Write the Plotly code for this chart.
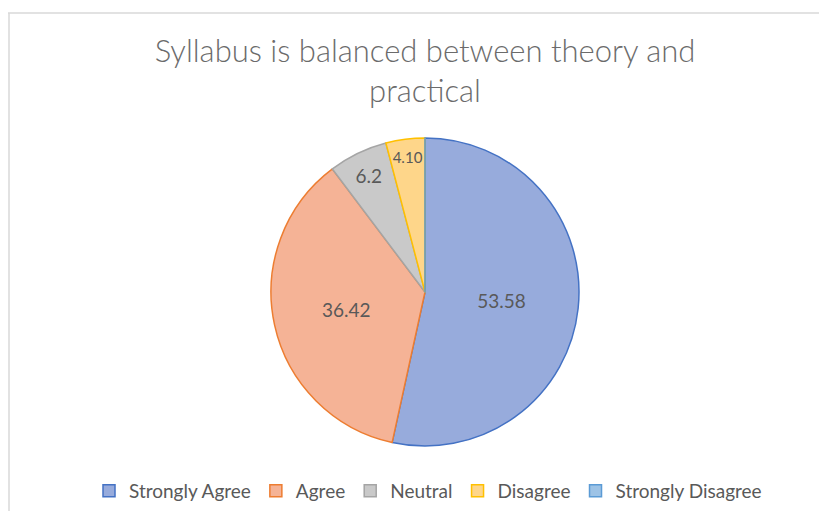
import plotly.graph_objects as go

categories = ["Strongly Agree", "Agree", "Neutral", "Disagree", "Strongly Disagree"]
values = [53.58, 36.42, 6.2, 4.10, 0]
value_labels = ["53.58", "36.42", "6.2", "4.10", ""]
fill_colors = ["#97abdc", "#f5b396", "#c9c9c9", "#fed68a", "#9dc3e6"]
line_colors = ["#4472c4", "#ed7d31", "#a5a5a5", "#ffc000", "#5b9bd5"]
title_text = "Syllabus is balanced between theory and<br>practical"

# the page body has an 8px margin; lay out in window pixels minus that offset
OFF = 8
W, H = 827 - OFF, 511 - OFF


def px(x):
    return (x - OFF) / W


def py(y):
    return 1 - (y - OFF) / H


fig = go.Figure(go.Pie(
    labels=categories,
    values=values,
    text=value_labels,
    textinfo="text",
    textposition="inside",
    insidetextorientation="horizontal",
    sort=False,
    direction="clockwise",
    rotation=0,
    marker=dict(colors=fill_colors, line=dict(color=line_colors, width=1.5)),
    textfont=dict(family="Lato, sans-serif", size=19, color="#595959"),
    domain=dict(x=[px(425 - 154), px(425 + 154)], y=[py(446), py(138)]),
    showlegend=True,
))

fig.update_layout(
    width=W, height=H,
    margin=dict(l=0, r=0, t=0, b=0),
    paper_bgcolor="white",
    font=dict(family="Lato, sans-serif", color="#595959"),
    title=dict(text=title_text, x=px(425), xanchor="center", y=py(62), yanchor="middle",
               font=dict(size=31, color="#6b6b6b", family="Lato, sans-serif", weight=300)),
    legend=dict(orientation="h", x=px(428), xanchor="center", y=py(491), yanchor="middle",
                font=dict(size=19, color="#595959"), itemwidth=30, traceorder="normal"),
    shapes=[
        dict(type="line", xref="paper", yref="paper", x0=px(7), x1=px(826), y0=py(13), y1=py(13),
             line=dict(color="#d9d9d9", width=1.5)),
        dict(type="line", xref="paper", yref="paper", x0=px(9), x1=px(9), y0=py(13), y1=0,
             line=dict(color="#d9d9d9", width=1.5)),
    ],
)

fig.write_html("out.html")
